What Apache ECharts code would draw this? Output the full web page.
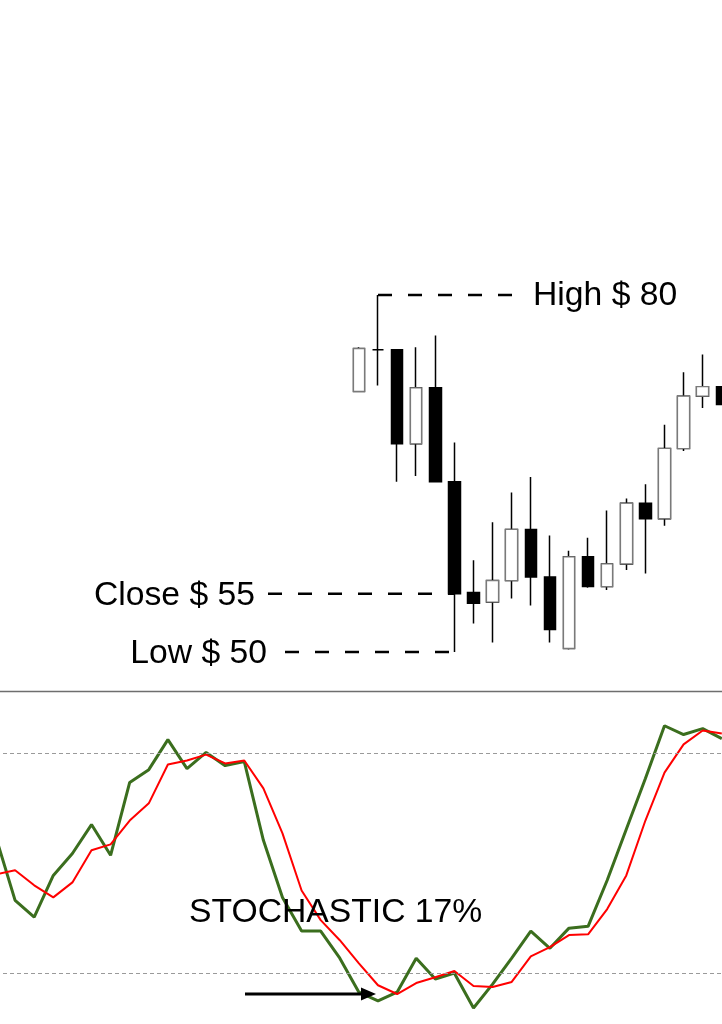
<!DOCTYPE html>
<html><head><meta charset="utf-8">
<script src="https://cdn.jsdelivr.net/npm/echarts@6/dist/echarts.min.js"></script>
<style>html,body{margin:0;padding:0;background:#fff}#c{width:722px;height:1024px}</style>
</head><body><div id="c"></div><script>
const categories = ['1','2','3','4','5','6','7','8','9','10','11','12','13','14','15','16','17','18','19','20',
  '21','22','23','24','25','26','27','28','29','30','31','32','33','34','35','36','37','38','39','40'];
const opens  = [null,null,null,null,null,null,null,null,null,null,null,null,null,null,null,null,null,null,null,
  71.9,75.4,75.4,67.5,72.2,64.3,55.0,54.2,56.0,60.3,56.3,50.3,58.0,55.5,57.4,62.5,61.2,67.1,71.5,72.3,null];
const closes = [null,null,null,null,null,null,null,null,null,null,null,null,null,null,null,null,null,null,null,
  75.5,75.4,67.5,72.2,64.3,54.9,54.1,56.0,60.3,56.3,51.9,58.0,55.5,57.4,62.5,61.2,67.1,71.5,72.3,70.8,null];
const lows   = [null,null,null,null,null,null,null,null,null,null,null,null,null,null,null,null,null,null,null,
  71.9,72.4,64.3,64.8,64.3,50.0,52.4,50.8,54.5,53.9,50.8,50.2,55.4,55.2,56.9,56.6,60.6,66.9,70.5,70.8,null];
const highs  = [null,null,null,null,null,null,null,null,null,null,null,null,null,null,null,null,null,null,null,
  75.6,80.0,75.4,75.6,76.6,67.6,57.7,60.9,63.4,64.7,59.8,58.5,59.6,61.9,62.9,64.1,69.1,73.5,75.0,72.3,null];
const stochK = [57.0,39.8,35.2,46.6,52.6,60.5,52.1,72.0,75.5,83.7,75.8,80.2,76.6,77.7,56.2,40.6,31.4,31.4,24.0,14.7,
  12.3,14.7,24.0,18.3,19.9,10.4,16.9,24.0,31.4,26.7,32.2,32.7,45.3,59.2,73.1,87.5,85.1,86.7,84.0,null];
const stochD = [46.9,48.0,43.9,40.6,44.7,53.5,55.1,61.6,66.3,76.9,78.0,79.6,77.2,78.0,70.4,58.1,42.5,34.4,28.9,22.6,
  16.6,14.2,17.2,18.8,20.5,16.4,16.1,17.5,24.5,27.0,30.3,30.5,37.4,46.6,61.6,74.7,82.4,86.2,85.4,null];
const stochLevels = [80, 20];
const highIdx = 20, highVal = 80;
const closeIdx = 24, closeVal = 54.9;
const lowIdx = 24, lowVal = 50.0;
const labelHigh = 'High $ 80', labelClose = 'Close $ 55', labelLow = 'Low $ 50', labelStoch = 'STOCHASTIC 17%';

const candleData = categories.map((c, i) => opens[i] == null ? '-' : [opens[i], closes[i], lows[i], highs[i]]);
const upBodies = categories.map((c, i) => (opens[i] != null && closes[i] > opens[i]) ? [opens[i], closes[i], opens[i], closes[i]] : '-');

const FONT = '"Liberation Sans", Arial, sans-serif';
const chart = echarts.init(document.getElementById('c'), null, {renderer: 'canvas'});
const hiddenX = (gi) => ({type: 'category', gridIndex: gi, data: categories, boundaryGap: false, show: false});
chart.setOption({
  animation: false,
  backgroundColor: '#fff',
  grid: [
    {left: -4, width: 744.9, top: 295, height: 357, outerBoundsMode: 'none', containLabel: false},
    {left: -4, width: 744.9, top: 680, height: 366, outerBoundsMode: 'none', containLabel: false}
  ],
  xAxis: [hiddenX(0), hiddenX(1)],
  yAxis: [
    {type: 'value', gridIndex: 0, min: 50, max: 80, show: false},
    {type: 'value', gridIndex: 1, min: 0, max: 100, show: false}
  ],
  series: [
    {type: 'candlestick', xAxisIndex: 0, yAxisIndex: 0, data: candleData, barWidth: 12, clip: false,
      itemStyle: {color: '#fff', color0: '#000', borderColor: '#000', borderColor0: '#000', borderColorDoji: '#000', borderWidth: 1.5}},
    {type: 'candlestick', xAxisIndex: 0, yAxisIndex: 0, data: upBodies, barWidth: 12, clip: false,
      itemStyle: {color: '#fff', color0: '#fff', borderColor: '#7a7a7a', borderColor0: '#7a7a7a', borderWidth: 1.2}},
    {type: 'line', xAxisIndex: 1, yAxisIndex: 1, data: stochK, symbol: 'none', clip: false,
      lineStyle: {color: '#3b6e1e', width: 3},
      markLine: {silent: true, symbol: 'none', label: {show: false},
        lineStyle: {color: '#9a9a9a', type: [4, 3], width: 1},
        data: stochLevels.map(v => ({yAxis: v}))}},
    {type: 'line', xAxisIndex: 1, yAxisIndex: 1, data: stochD, symbol: 'none', clip: false,
      lineStyle: {color: '#ff0000', width: 2}}
  ]
});

const p = (gi, idx, v) => chart.convertToPixel({gridIndex: gi}, [idx, v]);
const hi = p(0, highIdx, highVal), cl = p(0, closeIdx, closeVal), lo = p(0, lowIdx, lowVal);
const dash = {stroke: '#000', lineWidth: 2.5, lineDash: [14, 16]};
const txt = (x, y, text, align) => ({type: 'text', x: x, y: y, z: 10,
  style: {text: text, fill: '#000', font: '33.7px ' + FONT, align: align, verticalAlign: 'middle'}});
chart.setOption({
  graphic: [
    {type: 'line', shape: {x1: 0, y1: 691.5, x2: 722, y2: 691.5}, style: {stroke: '#6e6e6e', lineWidth: 1.5}},
    {type: 'line', shape: {x1: hi[0], y1: hi[1], x2: 515, y2: hi[1]}, style: dash},
    {type: 'line', shape: {x1: 268, y1: cl[1], x2: cl[0], y2: cl[1]}, style: dash},
    {type: 'line', shape: {x1: 285, y1: lo[1], x2: lo[0], y2: lo[1]}, style: dash},
    txt(533, hi[1] + 1, labelHigh, 'left'),
    txt(255, cl[1] + 2, labelClose, 'right'),
    txt(267, lo[1] + 2, labelLow, 'right'),
    txt(189, 913, labelStoch, 'left'),
    {type: 'line', z: 10, shape: {x1: 245, y1: 994, x2: 364, y2: 994}, style: {stroke: '#000', lineWidth: 3}},
    {type: 'polygon', z: 10, shape: {points: [[376, 994], [361, 987.5], [361, 1000.5]]}, style: {fill: '#000'}}
  ]
});
</script></body></html>
